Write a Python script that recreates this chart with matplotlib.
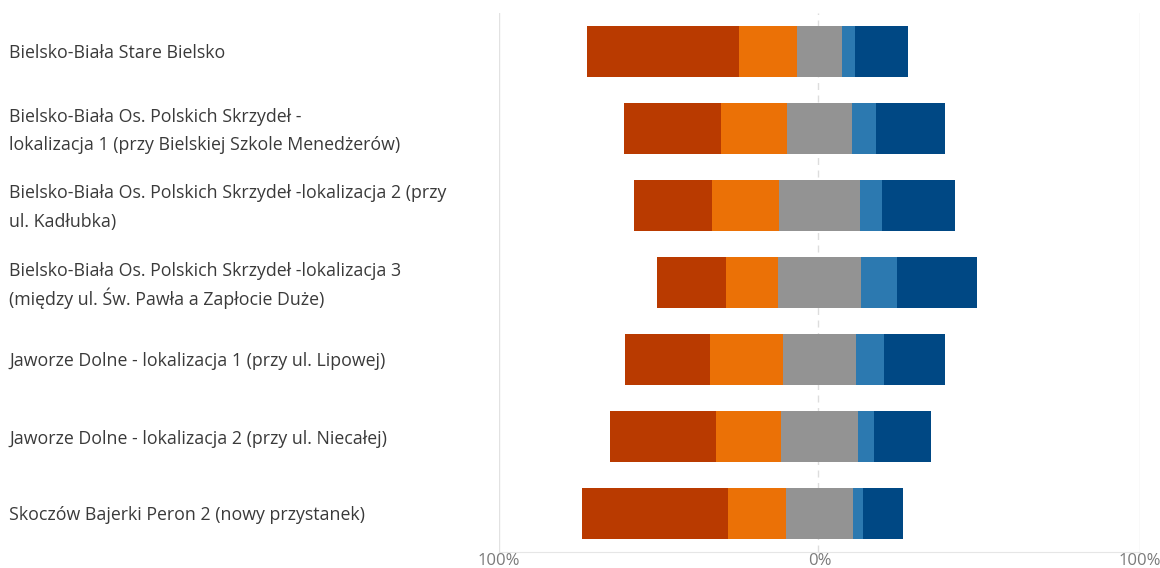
import numpy as np
import matplotlib
matplotlib.use("Agg")
import matplotlib.pyplot as plt
import matplotlib.transforms as mtransforms

plt.rcParams['font.family'] = ['Open Sans', 'DejaVu Sans']

# categories, top to bottom
labels = [
    "Bielsko-Biała Stare Bielsko",
    "Bielsko-Biała Os. Polskich Skrzydeł -\nlokalizacja 1 (przy Bielskiej Szkole Menedżerów)",
    "Bielsko-Biała Os. Polskich Skrzydeł -lokalizacja 2 (przy\nul. Kadłubka)",
    "Bielsko-Biała Os. Polskich Skrzydeł -lokalizacja 3\n(między ul. Św. Pawła a Zapłocie Duże)",
    "Jaworze Dolne - lokalizacja 1 (przy ul. Lipowej)",
    "Jaworze Dolne - lokalizacja 2 (przy ul. Niecałej)",
    "Skoczów Bajerki Peron 2 (nowy przystanek)",
]

# shares in percent, from most negative to most positive answer
strong_neg = [47.4, 30.2, 24.1, 21.6, 26.6, 33.1, 45.5]
neg = [18.0, 20.6, 21.1, 16.1, 22.7, 20.2, 18.0]
neutral = [14.1, 20.1, 25.1, 26.1, 23.0, 24.1, 21.0]
pos = [4.1, 7.6, 7.1, 11.2, 8.7, 5.0, 3.0]
strong_pos = [16.4, 21.5, 22.6, 25.0, 19.0, 17.6, 12.5]

colors = ['#b93a00', '#eb7106', '#939393', '#2c79b0', '#004884']

fig = plt.figure(figsize=(11.6, 5.68), dpi=100)
ax = fig.add_axes([499 / 1160, 16 / 568, 641 / 1160, 539 / 568])

y = np.arange(len(labels))
series = [strong_neg, neg, neutral, pos, strong_pos]
# neutral block centred on zero
left = -(np.array(strong_neg) + np.array(neg) + np.array(neutral) / 2)
for vals, c in zip(series, colors):
    ax.barh(y, vals, left=left, height=0.66, color=c, zorder=3)
    left = left + np.array(vals)

ax.axvline(-0.5, color='#dddddd', lw=1, ls=(0, (5, 4)), zorder=1)
for xv in (-100, 100):
    ax.axvline(xv, color='#e2e2e2', lw=1, zorder=1)

ax.set_xlim(-100, 100)
ax.set_ylim(len(labels) - 0.5, -0.5)
ax.set_yticks([])
ax.set_xticks([-100, 0, 100])
ax.set_xticklabels(['100%', '0%', '100%'], color='#7a7a7a', fontsize=12)
ax.tick_params(axis='x', length=0, pad=1)
for s in ('top', 'left', 'right'):
    ax.spines[s].set_visible(False)
ax.spines['bottom'].set_color('#e6e6e6')

# category labels, each line placed on its own (28 px apart)
trans = mtransforms.blended_transform_factory(fig.transFigure, ax.transData)
for i, lab in enumerate(labels):
    lines = lab.split('\n')
    n = len(lines)
    for k, line in enumerate(lines):
        dy = -2 + ((n - 1) / 2 - k) * 28
        ax.annotate(line, xy=(9 / 1160, i), xycoords=trans,
                    xytext=(0, dy), textcoords='offset pixels',
                    ha='left', va='center', fontsize=12.8, color='#3a3a3a')

fig.savefig('out.png', dpi=100)
